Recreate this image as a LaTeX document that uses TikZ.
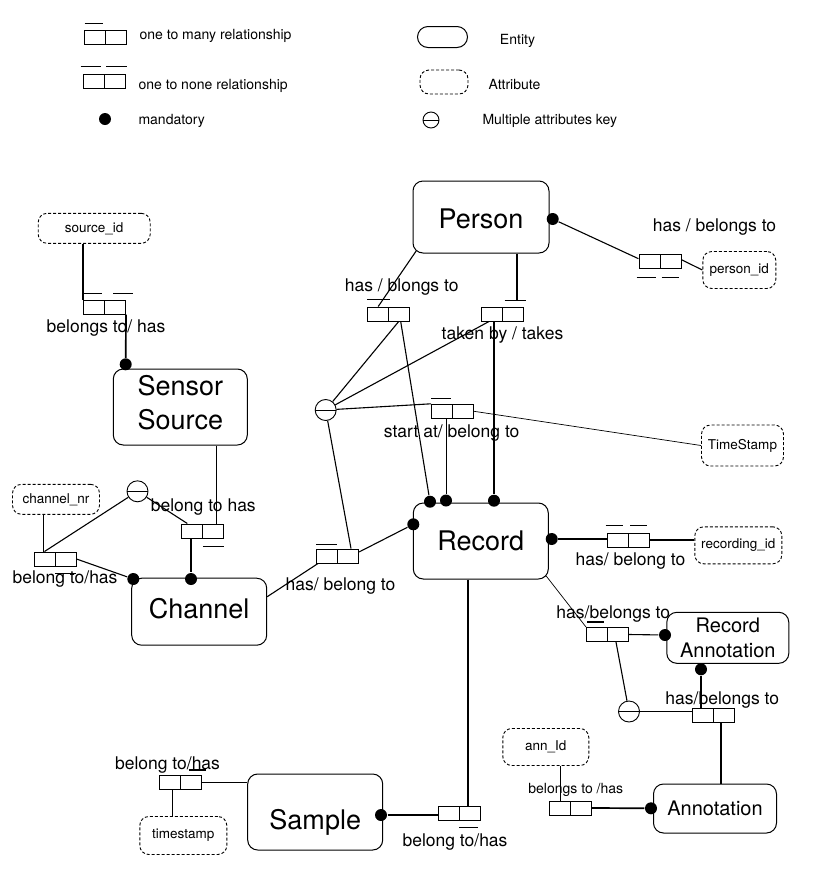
\documentclass[tikz,border=0pt]{standalone}
\usepackage{fontspec}
\setmainfont{TeX Gyre Heros}

\tikzstyle{entity} = [
	draw = black,
	line width = 1pt,
	rounded corners = 10pt,
	align = center,
	font = \fontsize{27}{34}\selectfont
	]
\tikzstyle{attr} = [
	draw = black,
	line width = 0.9pt,
	dash pattern = on 3pt off 2pt,
	rounded corners = 9pt,
	font = \fontsize{13.5}{16}\selectfont
	]
\tikzstyle{rel} = [
	draw = black,
	line width = 1pt,
	minimum width = 42pt,
	minimum height = 14pt,
	path picture = {\draw (path picture bounding box.north) -- (path picture bounding box.south);}
	]
\tikzstyle{mand} = [
	circle,
	fill = black,
	minimum size = 12pt
	]
\tikzstyle{keyc} = [
	circle,
	draw = black,
	line width = 0.9pt,
	minimum size = 21pt,
	path picture = {\draw (path picture bounding box.west) -- (path picture bounding box.east);}
	]
\tikzstyle{lbl} = [font = \fontsize{17.5}{20}\selectfont]
\tikzstyle{legtext} = [anchor = west, font = \fontsize{14}{16}\selectfont]
\tikzstyle{bar} = [line width = 1.2pt]
\tikzstyle{strong} = [line width = 1.7pt]
\tikzstyle{thin} = [line width = 0.7pt]

% shift the text of an entity down (negative lifts it)
\newcommand{\lowered}[2]{\raisebox{-#1}[\height][\depth]{#2}}

\begin{document}
\begin{tikzpicture}[
	x = 1pt,
	y = -1pt,
	line width = 1.1pt,
	every node/.style = {
	inner sep = 0pt
	}
	]
	\useasboundingbox[fill=white] (0,0) rectangle (817,879);

	% legend
	\node[rel] (legRel1) at (105,37) {};
	\draw[bar] ([xshift=1pt,yshift=6pt]legRel1.north west) -- ++(18,0);
	\node[legtext] (legT1) at (139,36) {one to many relationship};
	\node[rel] (legRel2) at (104,81.3) {};
	\draw[bar] ([xshift=-2pt,yshift=7pt]legRel2.north west) -- ++(20,0);
	\draw[bar] ([xshift=2pt,yshift=7pt]legRel2.north) -- ++(21,0);
	\node[legtext] (legT2) at (138,86) {one to none relationship};
	\node[mand] (legDot) at (105,119) {};
	\node[legtext] (legT3) at (138,121) {mandatory};
	\node[entity, rounded corners=10.5pt, minimum width=50pt, minimum height=21pt] (legEnt) at (442.5,37) {};
	\node[legtext, anchor=center] (legT4) at (517.5,41) {Entity};
	\node[attr, minimum width=48pt, minimum height=24pt] (legAttr) at (444,82) {};
	\node[legtext, anchor=center] (legT5) at (514.5,84) {Attribute};
	\node[keyc, minimum size=16pt] (legKey) at (431,120) {};
	\node[legtext] (legT6) at (482,121) {Multiple attributes key};

	% entities
	\node[entity, minimum width=136pt, minimum height=72pt] (person) at (481,217) {\lowered{2pt}{Person}};
	\node[entity, minimum width=134pt, minimum height=76pt] (sensor) at (180.3,407) {\lowered{-4pt}{Sensor}\\\lowered{-4pt}{Source}};
	\node[entity, minimum width=135pt, minimum height=67pt] (channel) at (199.2,611.7) {\lowered{-3pt}{Channel}};
	\node[entity, minimum width=135pt, minimum height=76pt] (record) at (480.8,541) {Record};
	\node[entity, font=\fontsize{20}{25}\selectfont, minimum width=122pt, minimum height=51pt] (recann) at (727.8,637.8) {Record\\Annotation};
	\node[entity, font=\fontsize{20}{25}\selectfont, minimum width=123pt, minimum height=49pt] (annot) at (715,808.5) {Annotation};
	\node[entity, minimum width=135pt, minimum height=76pt] (sample) at (315.2,812) {\lowered{10pt}{Sample}};

	% attributes
	\node[attr, minimum width=112pt, minimum height=30pt] (srcid) at (94.2,228.3) {source\_id};
	\node[attr, minimum width=73pt, minimum height=37pt] (pid) at (739.3,270) {person\_id};
	\node[attr, minimum width=82pt, minimum height=41pt] (tsRec) at (742.5,445.5) {TimeStamp};
	\node[attr, minimum width=87pt, minimum height=37pt] (recid) at (738.3,545.3) {recording\_id};
	\node[attr, minimum width=87pt, minimum height=30pt] (chnnr) at (56,499.3) {channel\_nr};
	\node[attr, minimum width=87pt, minimum height=38pt] (tsSmp) at (183.3,835.5) {timestamp};
	\node[attr, minimum width=86pt, minimum height=37pt] (annid) at (545.8,747) {ann\_Id};

	% relationships
	\node[rel] (rSrc) at (104.5,307) {};
	\draw[bar] ([yshift=6pt]rSrc.north west) -- ++(19,0);
	\draw[bar] ([xshift=30pt,yshift=6pt]rSrc.north west) -- ++(20,0);
	\node[rel] (rPid) at (660,261.7) {};
	\draw[bar] ([xshift=-2pt,yshift=-8pt]rPid.south west) -- ++(19,0);
	\draw[bar] ([xshift=23pt,yshift=-8pt]rPid.south west) -- ++(17,0);
	\node[rel] (rPrs) at (388.7,314) {};
	\draw[bar] ([yshift=7pt]rPrs.north west) -- ++(23,0);
	\node[rel] (rTak) at (502.5,314) {};
	\draw[bar] ([xshift=2pt,yshift=6pt]rTak.north) -- ++(21,0);
	\node[rel] (rSta) at (452.5,411.3) {};
	\draw[bar] ([yshift=5pt]rSta.north west) -- ++(20,0);
	\node[rel] (rSen) at (202.8,531) {};
	\draw[bar] ([yshift=-8pt]rSen.south) -- ++(21,0);
	\node[rel] (rChn) at (55,559) {};
	\draw[bar] ([yshift=-7pt]rChn.south) -- ++(21,0);
	\node[rel] (rCR) at (337.5,556) {};
	\draw[bar] ([yshift=4pt]rCR.north west) -- ++(21,0);
	\node[rel] (rRid) at (628,540) {};
	\draw[bar] ([xshift=-1pt,yshift=7pt]rRid.north west) -- ++(17,0);
	\draw[bar] ([xshift=2pt,yshift=7pt]rRid.north) -- ++(17,0);
	\node[rel] (rRA) at (607.5,634.5) {};
	\draw[bar] ([xshift=1pt,yshift=5pt]rRA.north west) -- ++(17,0);
	\node[rel] (rAn) at (713.5,715.3) {};
	\node[rel] (rAid) at (570.5,808) {};
	\node[rel] (rTs) at (180.5,782.5) {};
	\draw[bar] ([xshift=8pt,yshift=5pt]rTs.north) -- ++(17,0);
	\node[rel] (rSmp) at (459,813) {};
	\draw[bar] ([yshift=-7pt]rSmp.south) -- ++(19,0);

	% multiple attribute keys
	\node[keyc] (kRec) at (325.7,410) {};
	\node[keyc] (kChn) at (137.5,491.3) {};
	\node[keyc] (kAnn) at (629,711.5) {};

	% mandatory dots
	\node[mand] (dPer) at (552.7,219) {};
	\node[mand] (dSen) at (125.7,364.3) {};
	\node[mand] (dChn1) at (133.3,579) {};
	\node[mand] (dChn2) at (191,579) {};
	\node[mand] (dRec1) at (430,501.7) {};
	\node[mand] (dRec2) at (446,500.5) {};
	\node[mand] (dRec3) at (494,500.7) {};
	\node[mand] (dRecL) at (413.3,524.3) {};
	\node[mand] (dRecR) at (551.7,539) {};
	\node[mand] (dRA) at (665,635) {};
	\node[mand] (dRA2) at (701,669.3) {};
	\node[mand] (dAnn) at (651,808.3) {};
	\node[mand] (dSmp) at (381,815) {};

	% labels
	\node[lbl] (lSrc) at (106,327.7) {belongs to/ has};
	\node[lbl] (lPrs) at (401.7,286.7) {has / blongs to};
	\node[lbl] (lTak) at (502.5,335) {taken by / takes};
	\node[lbl] (lPid) at (714.5,227.3) {has / belongs to};
	\node[lbl] (lSta) at (451.7,433.3) {start at/ belong to};
	\node[lbl] (lSen) at (203.3,506.7) {belong to has};
	\node[lbl] (lChn) at (65,579) {belong to/has};
	\node[lbl] (lCR) at (340.5,586) {has/ belong to};
	\node[lbl] (lRid) at (630.5,560.7) {has/ belong to};
	\node[lbl] (lRA) at (613.3,614) {has/belongs to};
	\node[lbl] (lAn) at (722.3,700) {has/belongs to};
	\node[lbl, font=\fontsize{14}{16}\selectfont] (lAid) at (575.8,790) {belongs to /has};
	\node[lbl] (lTs) at (167.5,765) {belong to/has};
	\node[lbl] (lSmp) at (455,841.7) {belong to/has};

	% sensor source and channel
	\draw (srcid.south -| rSrc.north west) -- (rSrc.north west);
	\draw[strong] (rSrc.south east) -- (dSen);
	\coordinate (senTop) at ([xshift=-8pt]rSen.north east);
	\draw[thin] (senTop |- sensor.south) -- (senTop);
	\draw (kChn) -- ([xshift=6pt]rSen.north west);
	\draw[strong] (rSen.south -| dChn2) -- (dChn2);
	\coordinate (chnTop) at ([xshift=10pt]rChn.north west);
	\draw (chnTop |- chnnr.south) -- (chnTop);
	\draw (kChn) -- ([xshift=11pt]rChn.north west);
	\draw (rChn.east) -- (dChn1);
	\draw (channel.east) ++(0,-15) -- ([xshift=2pt]rCR.south west);
	\draw ([yshift=4pt]rCR.east) -- (dRecL);
	\draw (kRec) -- ([xshift=-8pt]rCR.north east);

	% person and record
	\draw ([xshift=4pt,yshift=3pt]person.south west) -- ([xshift=11pt]rPrs.north west);
	\draw ([xshift=12pt]rPrs.south) -- (dRec1);
	\coordinate (takTop) at ([xshift=-7pt,yshift=6pt]rTak.north east);
	\draw (takTop |- person.south) -- (takTop);
	\draw[strong] (rTak.south -| dRec3) -- (dRec3);
	\draw[thin] (rSta.south -| dRec2) -- (dRec2);
	\draw[thin] (rSta.east) -- (tsRec.west);
	\draw (kRec) -- ([xshift=10pt]rPrs.south);
	\draw (kRec) -- ([xshift=8pt]rTak.south west);
	\draw (kRec) -- (rSta.north west);
	\draw (dPer) -- ([yshift=3pt]rPid.west);
	\draw ([yshift=2pt]rPid.east) -- (pid.west);
	\draw[strong] (dRecR) -- (dRecR -| rRid.west);
	\draw (rRid.east) -- (rRid.east -| recid.west);

	% annotations
	\draw[thin] ([xshift=-3pt,yshift=4pt]record.south east) -- (rRA.north west);
	\draw (rRA.east) -- (dRA);
	\draw ([xshift=8.5pt]rRA.south) -- (kAnn);
	\draw (kAnn) -- (kAnn -| rAn.west);
	\draw (dRA2) -- (dRA2 |- rAn.north);
	\coordinate (annTop) at ([xshift=7.5pt]rAn.south);
	\draw (annTop) -- (annTop |- annot.north);
	\coordinate (aidTop) at ([xshift=-10.5pt]rAid.north);
	\draw[thin] (aidTop |- annid.south) -- (aidTop);
	\draw[strong] (rAid.east) -- (dAnn);

	% sample
	\coordinate (smpTop) at ([xshift=9pt]rSmp.north);
	\draw (smpTop |- record.south) -- (smpTop);
	\draw[strong] (dSmp) -- (dSmp -| rSmp.west);
	\draw (rTs.east) -- (rTs.east -| sample.west);
	\coordinate (tsBot) at ([xshift=-8pt]rTs.south);
	\draw[thin] (tsBot) -- (tsBot |- tsSmp.north);
\end{tikzpicture}
\end{document}
